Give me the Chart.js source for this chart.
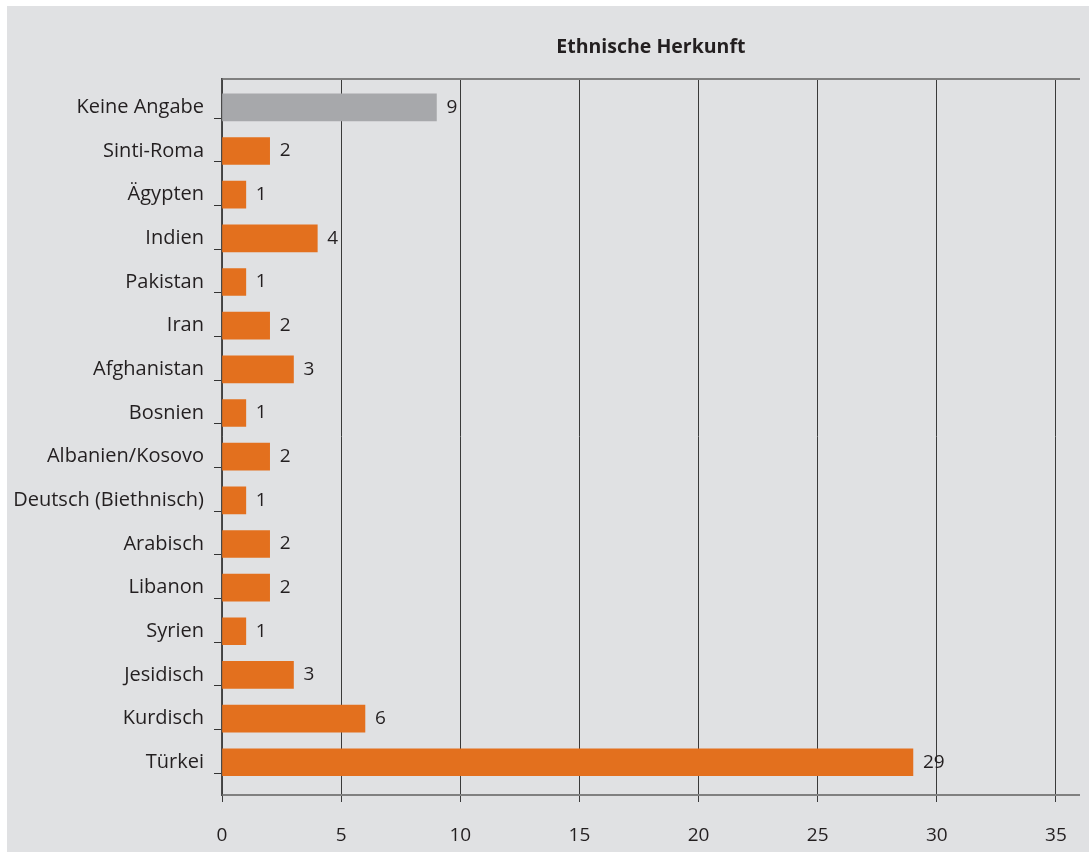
<!DOCTYPE html>
<html lang="de">
<head>
<meta charset="utf-8">
<title>Ethnische Herkunft</title>
<script src="https://cdn.jsdelivr.net/npm/chart.js@4"></script>
<style>
    html, body { margin: 0; background: #ffffff; }
    #rahmen { position: absolute; left: 7px; top: 6px; width: 1082px; height: 846px; background: #e0e1e3; }
    #grafikHerkunft { display: block; }
</style>
</head>
<body>
<div id="rahmen"><canvas id="grafikHerkunft" width="1082" height="846"></canvas></div>
<script>
    const titel = "Ethnische Herkunft";

    const herkunft = [
        "Keine Angabe", "Sinti-Roma", "Ägypten", "Indien", "Pakistan", "Iran",
        "Afghanistan", "Bosnien", "Albanien/Kosovo", "Deutsch (Biethnisch)",
        "Arabisch", "Libanon", "Syrien", "Jesidisch", "Kurdisch", "Türkei"
    ];
    const anzahl = [9, 2, 1, 4, 1, 2, 3, 1, 2, 1, 2, 2, 1, 3, 6, 29];

    const xTicks = [0, 5, 10, 15, 20, 25, 30, 35];

    const schrift = "'Open Sans', sans-serif";
    const textFarbe = "#231f20";
    const orange = "#e3701e";
    const grau = "#a7a8ab";

    // Zeilen liegen auf 0..15, die kleinen Striche links auf den Grenzen dazwischen
    const zeilen = herkunft.map((_, i) => i);
    const yTicks = zeilen.flatMap((i) => [i, i + 0.5]);
    const yMin = -0.65;
    const yMax = 15.75;

    // Zahlen rechts neben den Balken
    const werteAnzeigen = {
        id: "werteAnzeigen",
        afterDatasetsDraw(chart) {
            const ctx = chart.ctx;
            const meta = chart.getDatasetMeta(0);
            ctx.save();
            ctx.font = "19px " + schrift;
            ctx.fillStyle = textFarbe;
            ctx.textAlign = "left";
            ctx.textBaseline = "middle";
            meta.data.forEach((balken, i) => {
                ctx.fillText(String(anzahl[i]), balken.x + 10, balken.y);
            });
            ctx.restore();
        }
    };

    new Chart(document.getElementById("grafikHerkunft"), {
        type: "bar",
        data: {
            datasets: [{
                data: anzahl.map((wert, i) => ({ x: wert, y: zeilen[i] })),
                backgroundColor: herkunft.map((h) => h === "Keine Angabe" ? grau : orange),
                borderWidth: 0,
                barThickness: 27
            }]
        },
        options: {
            indexAxis: "y",
            responsive: false,
            animation: false,
            devicePixelRatio: 1,
            layout: { padding: { left: 0, right: 9, top: 0, bottom: 0 } },
            plugins: {
                legend: { display: false },
                tooltip: { enabled: false }
            },
            scales: {
                x: {
                    type: "linear",
                    position: "bottom",
                    min: 0,
                    max: 36,
                    afterBuildTicks: (scale) => {
                        scale.ticks = xTicks.map((v) => ({ value: v }));
                    },
                    afterFit: (scale) => { scale.height = 57; },
                    ticks: {
                        color: textFarbe,
                        font: { family: schrift, size: 19 },
                        padding: 22
                    },
                    grid: {
                        color: "#3a3a3a",
                        lineWidth: 1,
                        tickLength: 7
                    },
                    border: { color: "#808080", width: 2 }
                },
                oben: {
                    type: "linear",
                    position: "top",
                    min: 0,
                    max: 36,
                    afterFit: (scale) => { scale.height = 73; },
                    ticks: { display: false },
                    grid: { display: false },
                    border: { display: true, color: "#808080", width: 2 },
                    title: {
                        display: true,
                        text: titel,
                        color: textFarbe,
                        font: { family: schrift, size: 19.5, weight: "bold" },
                        padding: { top: 30, bottom: 0 }
                    }
                },
                y: {
                    type: "linear",
                    position: "left",
                    reverse: true,
                    offset: false,
                    min: yMin,
                    max: yMax,
                    afterBuildTicks: (scale) => {
                        scale.ticks = yTicks.map((v) => ({ value: v }));
                    },
                    afterFit: (scale) => { scale.width = 215; },
                    ticks: {
                        autoSkip: false,
                        color: textFarbe,
                        font: { family: schrift, size: 20 },
                        padding: 10,
                        callback: (wert) => Number.isInteger(wert) ? herkunft[wert] : ""
                    },
                    grid: {
                        drawOnChartArea: false,
                        drawTicks: true,
                        tickLength: 8,
                        lineWidth: 1,
                        color: (c) => (c.tick && !Number.isInteger(c.tick.value)) ? "#333333" : "rgba(0,0,0,0)"
                    },
                    border: { display: true, color: "#4a4a4a", width: 1.5 }
                }
            }
        },
        plugins: [werteAnzeigen]
    });
</script>
</body>
</html>
